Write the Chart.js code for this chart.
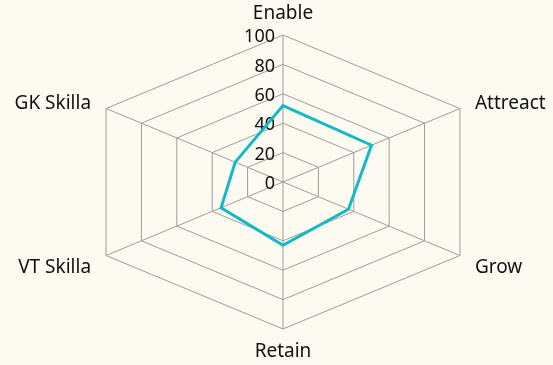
<!DOCTYPE html>
<html>
<head>
<meta charset="utf-8">
<script src="https://cdn.jsdelivr.net/npm/chart.js@4/dist/chart.umd.min.js"></script>
<style>
  html, body { margin:0; padding:0; background:#fdfaf1; }
  #wrap { width:553px; height:365px; position:relative; }
</style>
</head>
<body>
<div id="wrap"><canvas id="radar"></canvas></div>
<script>
/*
  Radar of six skills, drawn on a horizontally stretched hexagon grid.
*/
const labels = ['Enable', 'Attreact', 'Grow', 'Retain', 'VT Skilla', 'GK Skilla'];
const scores = [52, 50, 37, 43, 35, 27];
const tickMin = 0, tickMax = 100, tickStep = 20;

const X_STRETCH = 1.39;   // the grid in the picture is wider than it is tall
const FONT = 'Noto Sans';

// radial scale whose x offsets are stretched; also draws its own tick and point labels
class StretchRadial extends Chart.RadialLinearScale {
  getPointPosition(index, dist, extra = 0){
    const p = super.getPointPosition(index, dist, extra);
    return { x: this.xCenter + (p.x - this.xCenter) * X_STRETCH, y: p.y, angle: p.angle };
  }
  drawLabels(){
    const ctx = this.ctx;
    ctx.save();
    ctx.fillStyle = '#111';
    ctx.font = '18px "' + FONT + '"';
    ctx.textAlign = 'right';
    ctx.textBaseline = 'middle';
    this.ticks.forEach(t => {
      const d = this.getDistanceFromCenterForValue(t.value);
      ctx.fillText(t.label, this.xCenter - 8, this.yCenter - d + 2);
    });
    ctx.font = '19px "' + FONT + '"';
    this._pointLabels.forEach((txt, i) => {
      const v = this.getPointPosition(i, this.drawingArea);
      const dx = v.x - this.xCenter, dy = v.y - this.yCenter;
      if (Math.abs(dx) < 1){
        ctx.textAlign = 'center';
        ctx.fillText(txt, v.x, v.y + Math.sign(dy) * (dy < 0 ? 21 : 23));
      } else {
        ctx.textAlign = dx > 0 ? 'left' : 'right';
        ctx.fillText(txt, v.x + Math.sign(dx) * 15, v.y + (dy < 0 ? -5 : 12));
      }
    });
    ctx.restore();
  }
}
StretchRadial.id = 'stretchRadial';
Chart.register(StretchRadial);

const ctx = document.getElementById('radar').getContext('2d');
new Chart(ctx, {
  type: 'radar',
  data: {
    labels,
    datasets: [{
      data: scores,
      borderColor: '#13b9c5',
      borderWidth: 3,
      fill: false,
      pointRadius: 0,
      pointHoverRadius: 0
    }]
  },
  options: {
    responsive: true,
    maintainAspectRatio: false,
    animation: false,
    devicePixelRatio: 1,
    layout: { padding: { left: 13, right: 0, top: 27, bottom: 28 } },
    plugins: { legend: { display: false }, tooltip: { enabled: false } },
    scales: {
      r: {
        type: 'stretchRadial',
        min: tickMin,
        max: tickMax,
        ticks: { stepSize: tickStep, showLabelBackdrop: false },
        grid: { color: '#9c9c9c', lineWidth: 1 },
        angleLines: { color: '#9c9c9c', lineWidth: 1 },
        pointLabels: { display: false }
      }
    }
  }
});
</script>
</body>
</html>
